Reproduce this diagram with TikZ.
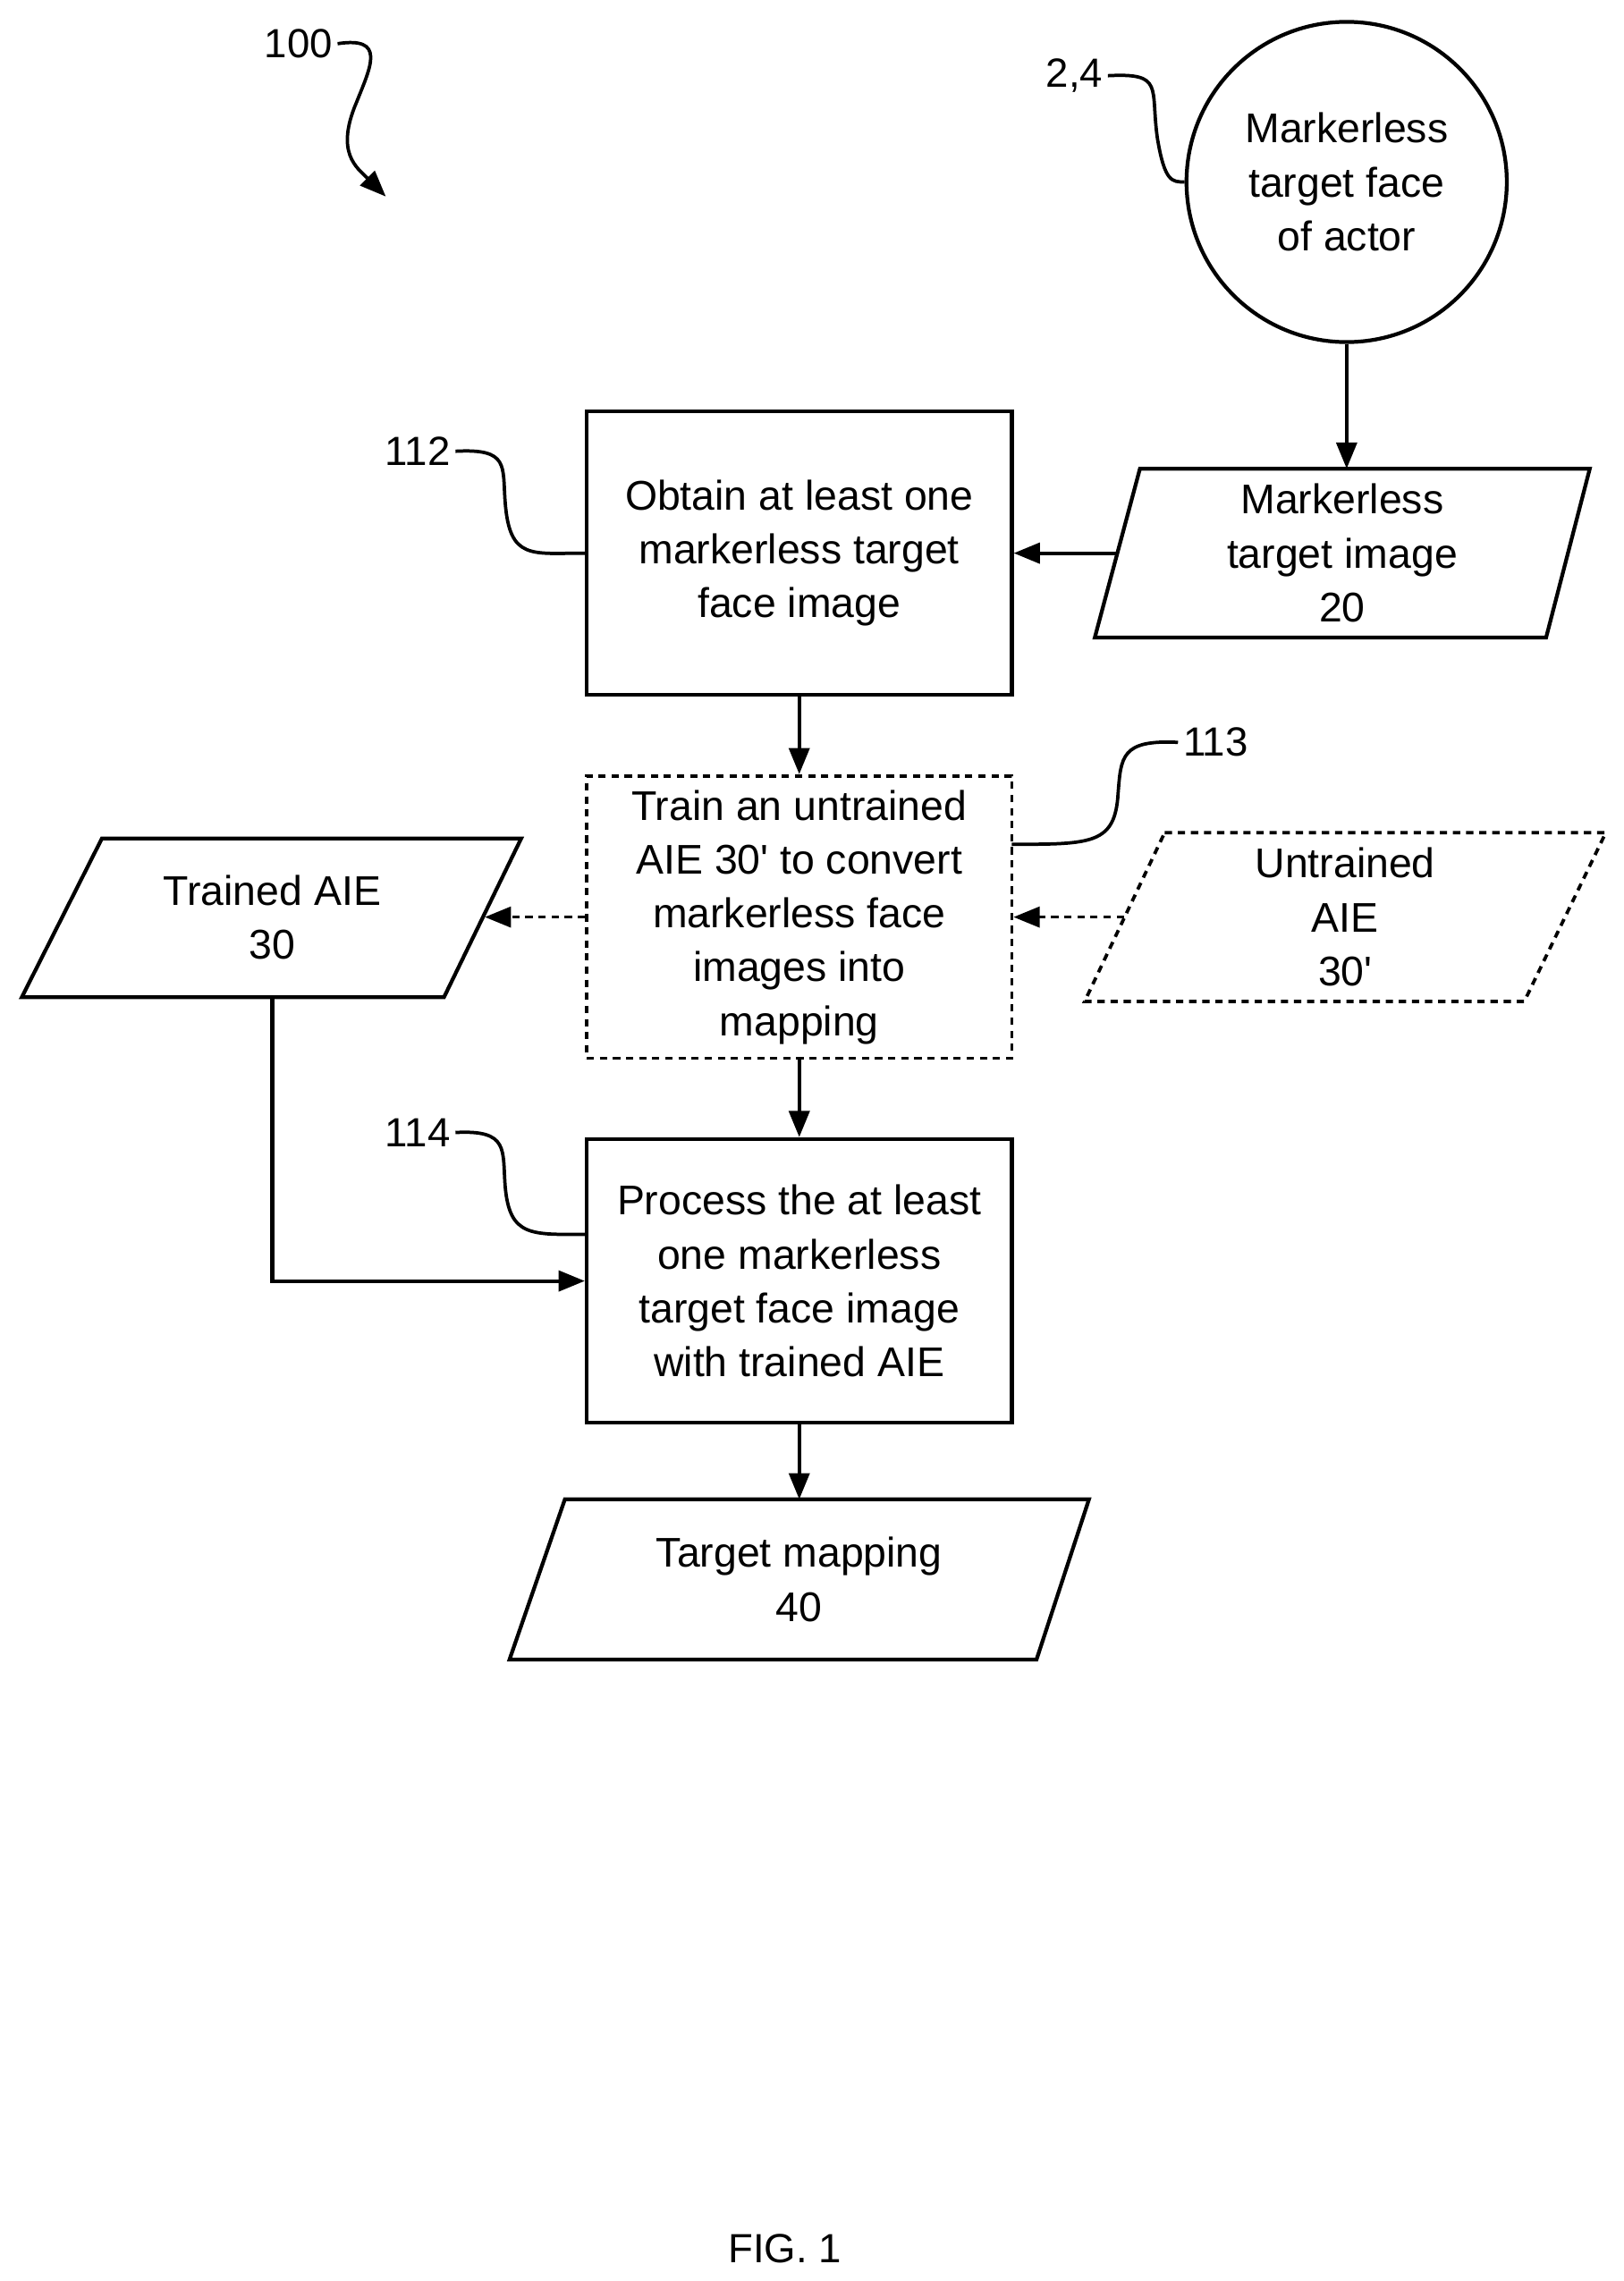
\documentclass[tikz,border=0pt]{standalone}
\usepackage{fontspec}
\setmainfont{Liberation Sans}
\usetikzlibrary{arrows.meta}
\begin{document}
\begin{tikzpicture}[x=1pt,y=-1pt,
  txt/.style={align=center,font=\fontsize{28.5}{37}\selectfont},
  lbl/.style={font=\fontsize{28}{32}\selectfont},
  box/.style={draw,line width=2.6pt},
  dbox/.style={draw,line width=2.3pt,dash pattern=on 5pt off 4pt},
  arr/.style={line width=2.6pt,-{Triangle[length=18pt,width=14pt]}},
  darr/.style={line width=2.3pt,dash pattern=on 5pt off 4pt,-{Triangle[length=18pt,width=14pt]}},
  lead/.style={line width=2.3pt}]
\useasboundingbox (0,0) rectangle (1115,1567);
% circle
\node[draw,circle,line width=2.6pt,minimum size=220pt,txt] (face) at (925,125) {Markerless\\target face\\of actor};
\node[lbl] (l24) at (738,52) {2,4};
\draw[lead] (l24.east) .. controls (800,50) and (790,60) .. (795,95) .. controls (800,125) and (805,125) .. (face.west);
% 100
\node[lbl] (l100) at (205,30) {100};
\coordinate (a100) at (265,135);
\draw[lead,-{Triangle[length=18pt,width=14pt]}] (l100.east) .. controls (265,25) and (255,45) .. (245,70) .. controls (230,105) and (245,115) .. (a100);
% box 112
\node[box,minimum width=292pt,minimum height=195pt,txt] (b112) at (549,380) {Obtain at least one\\markerless target\\face image};
\node[lbl] (l112) at (287,310) {112};
\draw[lead] (l112.east) .. controls (350,308) and (345,320) .. (347,345) .. controls (350,385) and (365,380) .. (b112.west);
% markerless target image
\draw[box] (783,322) -- (1092,322) -- (1062,438) -- (752,438) -- cycle;
\node[txt] (mti) at (922,380) {Markerless\\target image\\20};
\coordinate (mtiL) at (768,380);
\coordinate (mtiT) at (925,322);
\draw[arr] (face.south) -- (mtiT);
\draw[arr] (mtiL) -- (b112.east);
% dashed box 113
\node[dbox,minimum width=292pt,minimum height=194pt,txt] (b113) at (549,630) {Train an untrained\\AIE 30\textquotesingle\ to convert\\markerless face\\images into\\mapping};
\draw[arr] (b112.south) -- (b113.north);
\node[lbl] (l113) at (835,510) {113};
\coordinate (c113) at (695,580);
\draw[lead] (l113.west) .. controls (770,508) and (770,520) .. (768,545) .. controls (766,580) and (750,580) .. (c113);
% untrained AIE
\draw[dbox] (800,572) -- (1103,572) -- (1047,688) -- (745,688) -- cycle;
\node[txt] (uaie) at (924,630) {Untrained\\AIE\\30\textquotesingle};
\coordinate (uaieL) at (772,630);
\draw[darr] (uaieL) -- (b113.east);
% trained AIE
\draw[box] (70,576) -- (358,576) -- (305,685) -- (15,685) -- cycle;
\node[txt] (taie) at (187,630) {Trained AIE\\30};
\coordinate (taieR) at (333,630);
\coordinate (taieB) at (187,685);
\draw[darr] (b113.west) -- (taieR);
% box 114
\node[box,minimum width=292pt,minimum height=195pt,txt] (b114) at (549,880) {Process the at least\\one markerless\\target face image\\with trained AIE};
\draw[arr] (b113.south) -- (b114.north);
\node[lbl] (l114) at (287,778) {114};
\coordinate (c114) at (403,848);
\draw[lead] (l114.east) .. controls (350,776) and (345,790) .. (347,815) .. controls (350,850) and (365,848) .. (c114);
\draw[arr] (taieB) -- (187,880) -- (b114.west);
% target mapping
\draw[box] (388,1030) -- (748,1030) -- (712,1140) -- (350,1140) -- cycle;
\node[txt] (tm) at (549,1085) {Target mapping\\40};
\coordinate (tmT) at (549,1030);
\draw[arr] (b114.south) -- (tmT);
\node[lbl] (fig) at (539,1545) {FIG. 1};
\end{tikzpicture}
\end{document}
